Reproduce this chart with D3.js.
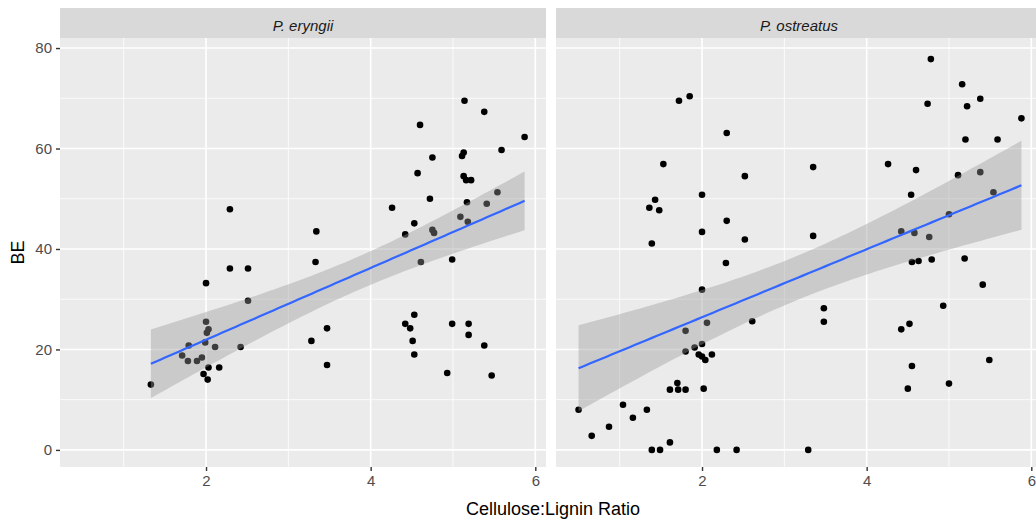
<!DOCTYPE html>
<html>
<head>
<meta charset="utf-8">
<script src="https://cdn.jsdelivr.net/npm/d3@7"></script>
<style>
  body { margin: 0; background: #fff; }
  text { font-family: "Liberation Sans", Arial, sans-serif; }
</style>
</head>
<body>
<div id="chart"></div>
<script>
'use strict';

// facets
const facetLabels = ['P. eryngii', 'P. ostreatus'];

// P. eryngii: cellulose:lignin ratio and BE
const eryngiiRatio = [2.29,
    5.14, 5.38, 4.60, 5.87, 5.59, 5.13, 5.11, 4.75, 4.57, 5.13, 5.16, 5.22, 4.72, 5.54, 4.26, 5.17, 5.41, 5.09, 5.18, 4.53, 4.42, 4.75, 4.77, 3.34,
    3.33, 4.61, 4.99, 4.53, 4.42, 4.48, 4.99, 5.19, 5.19, 5.38, 3.47, 3.28, 4.51, 4.53, 3.47, 4.93, 5.47,
    2.29, 2.51, 2.00, 2.51, 2.00, 2.03, 2.01, 1.99, 1.79, 2.11, 2.42, 1.71, 1.78, 1.89, 1.95, 2.03, 2.16, 1.97, 2.02, 1.33];
const eryngiiBE = [47.9,
    69.5, 67.3, 64.7, 62.3, 59.7, 59.2, 58.5, 58.2, 55.1, 54.5, 53.7, 53.7, 50.0, 51.3, 48.2, 49.3, 49.0, 46.4, 45.4, 45.1, 42.9, 43.8, 43.2, 43.5,
    37.4, 37.4, 37.9, 26.9, 25.1, 24.2, 25.1, 25.1, 22.9, 20.8, 24.2, 21.7, 21.7, 19.0, 16.9, 15.3, 14.8,
    36.1, 36.1, 33.2, 29.7, 25.5, 24.0, 23.3, 21.4, 20.8, 20.5, 20.5, 18.8, 17.7, 17.7, 18.4, 16.4, 16.4, 15.1, 14.0, 13.0];

// P. ostreatus
const ostreatusRatio = [1.72, 1.85, 2.30, 1.53, 2.52, 2.00, 1.43, 1.36, 1.48, 2.30, 2.00, 2.52, 1.39,
    4.78, 5.16, 5.38, 4.74, 5.22, 5.88, 5.20, 5.59, 3.35, 4.26, 4.60, 5.11, 5.38, 5.54, 4.54, 5.00, 4.42, 4.58, 4.76, 3.35,
    4.55, 4.63, 4.79, 5.19, 5.41, 4.93, 3.48, 3.48, 4.52, 4.42, 5.49, 4.55, 5.00, 4.50, 3.29,
    2.29, 2.00, 2.61, 2.06, 1.80, 1.80, 1.91, 2.00, 1.96, 2.00, 2.04, 2.12, 1.70, 1.61, 1.71, 1.80, 2.02,
    0.50, 1.04, 1.33, 1.16, 0.87, 0.66, 1.61, 1.39, 1.49, 2.18, 2.42];
const ostreatusBE = [69.5, 70.4, 63.1, 56.9, 54.5, 50.8, 49.8, 48.2, 47.7, 45.6, 43.4, 41.9, 41.1,
    77.8, 72.8, 69.9, 68.9, 68.4, 66.0, 61.8, 61.8, 56.3, 56.9, 55.7, 54.7, 55.3, 51.3, 50.8, 46.9, 43.5, 43.2, 42.4, 42.6,
    37.4, 37.6, 37.9, 38.1, 32.9, 28.7, 28.2, 25.5, 25.1, 24.0, 17.9, 16.7, 13.2, 12.2, 0.0,
    37.2, 31.9, 25.6, 25.3, 23.7, 19.6, 20.4, 21.1, 19.0, 18.6, 17.9, 19.0, 13.3, 12.0, 12.0, 12.0, 12.2,
    8.0, 9.0, 8.0, 6.4, 4.6, 2.8, 1.5, 0.0, 0.0, 0.0, 0.0];

const xTicks = [2, 4, 6];
const xMinor = [1, 3, 5];
const yTicks = [0, 20, 40, 60, 80];
const yMinor = [10, 30, 50, 70];

var Charts = function charts() {

    let svg = null;
    let xScale;
    let yScale;

    let config = {
        width: 1036,
        height: 519,
        panelTop: 38,
        panelBottom: 467,
        stripTop: 8,
        panelLeft: [60, 556],
        panelWidth: 486
    };

    let renderSVG = function renderSVG(element) {
        svg = d3.select(element)
            .append('svg')
            .attr('width', config.width)
            .attr('height', config.height);

        svg.append('rect')
            .attr('width', config.width)
            .attr('height', config.height)
            .attr('fill', '#ffffff');
    }

    let setScale = function setScale() {
        xScale = d3.scaleLinear()
            .domain([0.226, 6.13])
            .range([0, config.panelWidth]);

        yScale = d3.scaleLinear()
            .domain([-3.4, 82])
            .range([config.panelBottom, config.panelTop]);
    }

    // lm fit with 95% confidence band, like geom_smooth(method = "lm")
    let fitLine = function fitLine(xs, ys) {
        let n = xs.length;
        let xbar = d3.mean(xs);
        let ybar = d3.mean(ys);
        let sxx = d3.sum(xs, d => (d - xbar) * (d - xbar));
        let sxy = d3.sum(xs, (d, i) => (d - xbar) * (ys[i] - ybar));
        let b = sxy / sxx;
        let a = ybar - b * xbar;
        let sse = d3.sum(xs, (d, i) => Math.pow(ys[i] - (a + b * d), 2));
        let s2 = sse / (n - 2);
        let df = n - 2;
        let z = 1.959964;
        let t = z + (Math.pow(z, 3) + z) / (4 * df);
        let ext = d3.extent(xs);
        let pts = [];
        for (let i = 0; i < 80; i++) {
            let x = ext[0] + (ext[1] - ext[0]) * i / 79;
            let y = a + b * x;
            let se = Math.sqrt(s2 * (1 / n + (x - xbar) * (x - xbar) / sxx));
            pts.push({ x: x, y: y, lo: y - t * se, hi: y + t * se });
        }
        return pts;
    }

    let drawPanel = function drawPanel(idx, xs, ys) {
        let left = config.panelLeft[idx];
        let g = svg.append('g')
            .attr('class', 'panel')
            .attr('transform', 'translate(' + left + ',0)');

        // background
        g.append('rect')
            .attr('x', 0)
            .attr('y', config.panelTop)
            .attr('width', config.panelWidth)
            .attr('height', config.panelBottom - config.panelTop)
            .attr('fill', '#ebebeb');

        // grid
        g.selectAll('.ygrid-minor').data(yMinor).enter().append('line')
            .attr('x1', 0).attr('x2', config.panelWidth)
            .attr('y1', d => yScale(d)).attr('y2', d => yScale(d))
            .attr('stroke', '#fff').attr('stroke-width', 0.8);
        g.selectAll('.xgrid-minor').data(xMinor).enter().append('line')
            .attr('y1', config.panelTop).attr('y2', config.panelBottom)
            .attr('x1', d => xScale(d)).attr('x2', d => xScale(d))
            .attr('stroke', '#fff').attr('stroke-width', 0.8);
        g.selectAll('.ygrid').data(yTicks).enter().append('line')
            .attr('x1', 0).attr('x2', config.panelWidth)
            .attr('y1', d => yScale(d)).attr('y2', d => yScale(d))
            .attr('stroke', '#fff').attr('stroke-width', 1.6);
        g.selectAll('.xgrid').data(xTicks).enter().append('line')
            .attr('y1', config.panelTop).attr('y2', config.panelBottom)
            .attr('x1', d => xScale(d)).attr('x2', d => xScale(d))
            .attr('stroke', '#fff').attr('stroke-width', 1.6);

        // points first, ribbon over them
        g.selectAll('.pt').data(xs).enter().append('circle')
            .attr('cx', d => xScale(d))
            .attr('cy', (d, i) => yScale(ys[i]))
            .attr('r', 3.3)
            .attr('fill', '#000');

        let fit = fitLine(xs, ys);

        let area = d3.area()
            .x(d => xScale(d.x))
            .y0(d => yScale(d.lo))
            .y1(d => yScale(d.hi));

        g.append('path')
            .datum(fit)
            .attr('d', area)
            .attr('fill', '#999999')
            .attr('fill-opacity', 0.4);

        let line = d3.line()
            .x(d => xScale(d.x))
            .y(d => yScale(d.y));

        g.append('path')
            .datum(fit)
            .attr('d', line)
            .attr('fill', 'none')
            .attr('stroke', '#3366ff')
            .attr('stroke-width', 2.2);

        // strip
        g.append('rect')
            .attr('x', 0)
            .attr('y', config.stripTop)
            .attr('width', config.panelWidth)
            .attr('height', config.panelTop - config.stripTop)
            .attr('fill', '#d9d9d9');

        g.append('text')
            .attr('x', config.panelWidth / 2)
            .attr('y', 31)
            .attr('text-anchor', 'middle')
            .attr('font-size', '15px')
            .attr('font-style', 'italic')
            .attr('fill', '#1a1a1a')
            .text(facetLabels[idx]);

        // x axis
        let xAxis = d3.axisBottom(xScale)
            .tickValues(xTicks)
            .tickSize(4)
            .tickPadding(4)
            .tickFormat(d3.format('d'));

        let ax = g.append('g')
            .attr('transform', 'translate(0,' + config.panelBottom + ')')
            .call(xAxis);
        ax.select('.domain').remove();
        ax.selectAll('line').attr('stroke', '#333').attr('stroke-width', 1.4);
        ax.selectAll('text').attr('fill', '#4d4d4d').attr('font-size', '15px')
            .attr('font-family', '"Liberation Sans", Arial, sans-serif');
    }

    let renderYAxis = function renderYAxis() {
        let yAxis = d3.axisLeft(yScale)
            .tickValues(yTicks)
            .tickSize(4)
            .tickPadding(4);

        let ay = svg.append('g')
            .attr('transform', 'translate(' + config.panelLeft[0] + ',0)')
            .call(yAxis);
        ay.select('.domain').remove();
        ay.selectAll('line').attr('stroke', '#333').attr('stroke-width', 1.4);
        ay.selectAll('text').attr('fill', '#4d4d4d').attr('font-size', '15px')
            .attr('font-family', '"Liberation Sans", Arial, sans-serif');
    }

    let renderTitles = function renderTitles() {
        svg.append('text')
            .attr('x', 553)
            .attr('y', 515)
            .attr('text-anchor', 'middle')
            .attr('font-size', '18px')
            .attr('fill', '#000')
            .text('Cellulose:Lignin Ratio');

        svg.append('text')
            .attr('transform', 'translate(24,' + ((config.panelTop + config.panelBottom) / 2) + ') rotate(-90)')
            .attr('text-anchor', 'middle')
            .attr('font-size', '18px')
            .attr('fill', '#000')
            .text('BE');
    }

    let draw = function draw(el) {
        renderSVG(el);
        setScale();
        drawPanel(0, eryngiiRatio, eryngiiBE);
        drawPanel(1, ostreatusRatio, ostreatusBE);
        renderYAxis();
        renderTitles();
    }

    return {
        draw: draw
    }
}

Charts().draw('#chart');
</script>
</body>
</html>
